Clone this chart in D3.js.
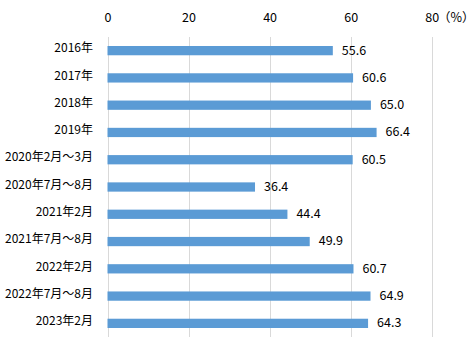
<!DOCTYPE html>
<html><head><meta charset="utf-8">
<script src="https://cdn.jsdelivr.net/npm/d3@7"></script>
<style>body{margin:0;background:#fff}svg{display:block}text{font-family:"Noto Sans CJK JP","Noto Sans",sans-serif;fill:#000}</style>
</head><body>
<script>
const categories = ["2016年","2017年","2018年","2019年","2020年2月～3月","2020年7月～8月","2021年2月","2021年7月～8月","2022年2月","2022年7月～8月","2023年2月"];
const values = [55.6,60.6,65.0,66.4,60.5,36.4,44.4,49.9,60.7,64.9,64.3];
const ticks = [0,20,40,60,80];
const unitLabel = "（%）";

const W=474,H=355;
const svg=d3.select("body").append("svg").attr("width",W).attr("height",H);
const x=d3.scaleLinear().domain([0,80]).range([107.5,431.7]);
const y=d3.scaleBand().domain(categories).range([37,337]).paddingInner(0.66).paddingOuter(0.33);

svg.append("g").selectAll("line").data(ticks).join("line")
  .attr("x1",d=>Math.round(x(d))+0.5).attr("x2",d=>Math.round(x(d))+0.5)
  .attr("y1",37).attr("y2",337).attr("stroke","#d9d9d9").attr("stroke-width",1);

const ax=svg.append("g").attr("transform","translate(0,22)")
  .call(d3.axisTop(x).tickValues(ticks).tickSize(0).tickPadding(0).tickFormat(d3.format("d")));
ax.select(".domain").remove();
ax.selectAll("text").attr("font-size",12.5).attr("dy",0).style("font-family",'"Noto Sans CJK JP",sans-serif').attr("fill","#000");

svg.append("text").attr("x",438).attr("y",22).attr("font-size",12.5).text(unitLabel);

svg.append("g").selectAll("rect").data(values).join("rect")
  .attr("x",x(0)).attr("y",(d,i)=>y(categories[i]))
  .attr("width",d=>x(d)-x(0)).attr("height",y.bandwidth()).attr("fill","#5B9BD5");

svg.append("g").selectAll("text").data(values).join("text")
  .attr("x",d=>x(d)+9).attr("y",(d,i)=>y(categories[i])+y.bandwidth()/2-0.5)
  .attr("dy","0.35em").attr("font-size",12.5).text(d=>d.toFixed(1));

svg.append("g").selectAll("text").data(categories).join("text")
  .attr("x",93).attr("y",d=>y(d)+y.bandwidth()/2-2.5)
  .attr("dy","0.35em").attr("text-anchor","end").attr("font-size",12).text(d=>d);
</script>
</body></html>
